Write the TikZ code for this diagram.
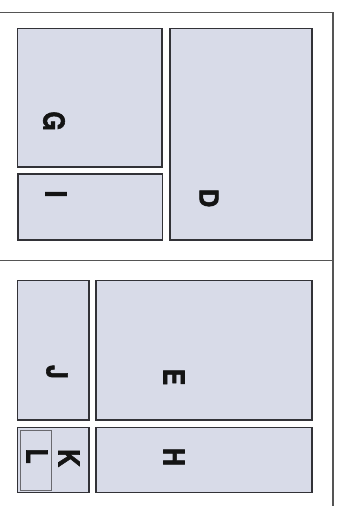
\documentclass[tikz,border=0pt]{standalone}
\usepackage{fontspec}
\usepackage{graphicx}
\setmainfont{TeX Gyre Heros}
\newfontfamily\heavyfont[FakeBold=2]{TeX Gyre Heros Bold}
\definecolor{boxfill}{RGB}{216,219,232}
\definecolor{boxline}{RGB}{50,50,55}
\definecolor{frameline}{RGB}{85,85,85}
\definecolor{innerline}{RGB}{105,105,110}
\tikzset{
  panel/.style={fill=boxfill, draw=boxline, line width=1.2bp},
  innerpanel/.style={draw=innerline, line width=1bp},
  frame/.style={draw=frameline, line width=1.5bp},
  letter/.style={rotate=-90, inner sep=0pt, font=\heavyfont\fontsize{29}{29}\selectfont, text=black!92}
}
\newcommand{\cond}[1]{\scalebox{0.86}[1]{#1}}
\begin{document}
\begin{tikzpicture}[x=1bp, y=-1bp]
\useasboundingbox (0,0) rectangle (336,506);
% frame
\draw[frame] (0,12.5) -- (333,12.5) -- (333,506);
\draw[frame] (0,260.5) -- (333,260.5);
% top panel boxes
\draw[panel] (17.5,28.5) rectangle (162,167);
\draw[panel] (18,174) rectangle (162.5,240);
\draw[panel] (170,28.7) rectangle (312,240);
% bottom panel boxes
\draw[panel] (17.5,280.7) rectangle (89,420);
\draw[panel] (96,280.7) rectangle (312,420);
\draw[panel] (17.5,427.5) rectangle (89,492.7);
\draw[panel] (96,427.5) rectangle (312,492.7);
\draw[innerpanel] (20.7,430) rectangle (51.7,490.5);
% labels
\node[letter] (G) at (54,121) {\cond{G}};
\node[letter] (I) at (56,194) {\cond{I}};
\node[letter] (D) at (209,198) {\scalebox{0.9}{D}};
\node[letter] (J) at (57,372) {\cond{J}};
\node[letter] (E) at (174,377) {\cond{E}};
\node[letter] (H) at (174,457) {\cond{H}};
\node[letter] (K) at (69,458) {\cond{K}};
\node[letter] (L) at (37,456) {\cond{L}};
\end{tikzpicture}
\end{document}
